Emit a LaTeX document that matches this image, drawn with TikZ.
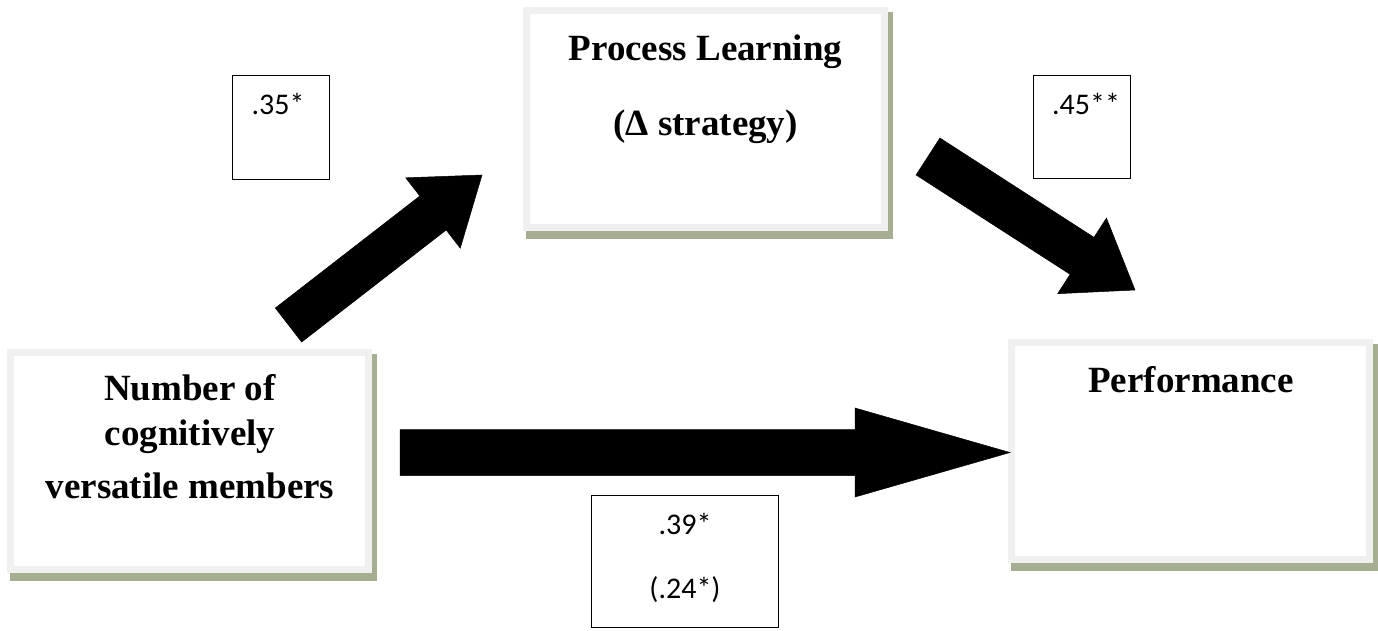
\documentclass[tikz,border=0pt]{standalone}
\usepackage{fontspec}
\setmainfont{Liberation Serif}
\newfontfamily\calib{Carlito}
\usetikzlibrary{calc,backgrounds}
\definecolor{boxborder}{RGB}{240,240,240}
\definecolor{shadowc}{RGB}{166,174,146}
\tikzset{
  bigbox/.style={draw=boxborder, line width=7pt, fill=white, minimum width=358pt, minimum height=217pt, inner sep=0pt},
  bigtxt/.style={font=\fontsize{37}{43}\selectfont\bfseries, anchor=base, inner sep=0pt},
  lblbox/.style={draw=black, line width=1.3pt, fill=white, inner sep=0pt},
  lbltxt/.style={font=\calib\fontsize{30}{36}\selectfont, anchor=base, inner sep=0pt},
  fat/.style={fill=black, draw=black, line width=0.5pt, line join=miter},
  boxshadow/.style={fill=shadowc}
}
% #1 tail coordinate, #2 tip coordinate, #3 shaft half width, #4 head half width, #5 head length
\newcommand\fatarrow[5]{%
  \coordinate (#1-b) at ($(#2)!#5!(#1)$);
  \fill[fat] ($(#1)!#3!90:(#2)$) -- ($(#1-b)!#3!-90:(#1)$) -- ($(#1-b)!#4!-90:(#1)$)
    -- (#2) -- ($(#1-b)!#4!90:(#1)$) -- ($(#1-b)!#3!90:(#1)$) -- ($(#1)!#3!-90:(#2)$) -- cycle;
}
\newcommand\drawshadow[1]{%
  \fill[boxshadow] ($(#1.north west)+(3,5)$) rectangle ($(#1.south east)+(5,8)$);
}
\begin{document}
\begin{tikzpicture}[x=1pt,y=-1pt]
\useasboundingbox (0,0) rectangle (1378,630);

% main boxes
\node[bigbox] (proc) at (705.5,118.5) {};
\node[bigbox] (num) at (189.5,460.5) {};
\node[bigbox] (perf) at (1190.5,450.5) {};
\begin{scope}[on background layer]
  \drawshadow{proc}
  \drawshadow{num}
  \drawshadow{perf}
\end{scope}

\node[bigtxt] (proc1) at (705.5,60) {Process Learning};
\node[bigtxt] (proc2) at (705.5,135) {(Δ strategy)};
\node[bigtxt] (num1) at (190,400) {Number of};
\node[bigtxt] (num2) at (190,445) {cognitively};
\node[bigtxt] (num3) at (190,498) {versatile members};
\node[bigtxt] (perf1) at (1191,392) {Performance};

% arrows
\coordinate (a1t) at (288.5,325);
\coordinate (a1h) at (482,175);
\coordinate (a2t) at (928,156.5);
\coordinate (a2h) at (1135,290);
\coordinate (a3t) at (400,452.5);
\coordinate (a3h) at (1010,452.5);
\fatarrow{a1t}{a1h}{21.5pt}{44.5pt}{62pt}
\fatarrow{a2t}{a2h}{22pt}{45pt}{63pt}
\fatarrow{a3t}{a3h}{23pt}{44.5pt}{155pt}

% coefficient boxes
\node[lblbox, minimum width=97pt, minimum height=104pt] (b35) at (281,127.5) {};
\node[lbltxt] (t35) at (278,114) {.35*};
\node[lblbox, minimum width=97pt, minimum height=103pt] (b45) at (1082,127) {};
\node[lbltxt] (t45) at (1086,114) {.45**};
\node[lblbox, minimum width=187pt, minimum height=132pt] (b39) at (685,561.5) {};
\node[lbltxt] (t39) at (685,534) {.39*};
\node[lbltxt] (t24) at (685,598) {(.24*)};
\end{tikzpicture}
\end{document}
